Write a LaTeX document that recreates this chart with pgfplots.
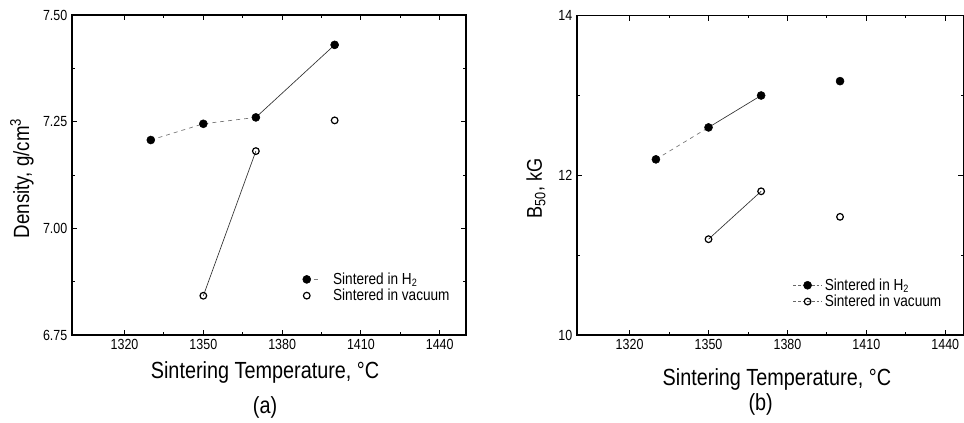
\documentclass[border=0pt]{standalone}
\usepackage{fontspec}
\setmainfont{Liberation Sans}[FakeStretch=0.85]
\usepackage{pgfplots}
\pgfplotsset{compat=1.18}

\pgfplotstableread{
T    D
1330 7.207
1350 7.245
1370 7.260
1400 7.430
}\densH
\pgfplotstableread{
T    D
1350 6.842
1370 7.181
1400 7.253
}\densV
\pgfplotstableread{
T    B
1330 12.20
1350 12.60
1370 13.00
1400 13.18
}\bH
\pgfplotstableread{
T    B
1350 11.20
1370 11.80
1400 11.48
}\bV

\newcommand{\tickfont}{\fontsize{11}{12}\selectfont}
\pgfplotsset{
  common/.style={
    scale only axis,
    anchor=south west,
    xmin=1300,
    xtick={1320,1350,1380,1410,1440},
    minor x tick num=1,
    minor y tick num=1,
    tick align=inside,
    major tick length=4pt,
    minor tick length=2pt,
    axis line style={line width=0.9pt},
    every tick/.style={line width=0.7pt, black},
    x tick label style={font=\tickfont, /pgf/number format/.cd, set thousands separator={}, assume math mode=true},
    xlabel style={font=\fontsize{17.5}{18}\selectfont},
    legend style={draw=none, fill=none, inner sep=0pt, font=\fontsize{12}{13}\selectfont,
      nodes={inner ysep=1pt}},
    legend cell align=left,
    clip=false,
  },
  hmark/.style={only marks, mark=*, mark size=3pt, black},
  vmark/.style={only marks, mark=o, mark size=2.5pt, black, mark options={line width=0.9pt, fill=white}},
  sline/.style={no marks, black!80, line width=0.5pt},
  dline/.style={no marks, black!55, line width=0.5pt, dash pattern=on 3pt off 3pt},
  legHa/.style={legend image code/.code={
    \draw[black, mark=*, mark size=3pt] plot coordinates {(0.1cm,0cm)};
    \draw[black!50, line width=0.5pt, solid] (0.28cm,0cm) -- (0.4cm,0cm);}},
  legVa/.style={legend image code/.code={
    \draw[black, mark=o, mark size=2.5pt, mark options={line width=0.9pt, fill=white}] plot coordinates {(0.1cm,0cm)};}},
  legHb/.style={legend image code/.code={
    \draw[black!60, line width=0.5pt, dash pattern=on 2pt off 1.5pt] (0cm,0cm) -- (0.75cm,0cm);
    \draw[black, mark=*, mark size=3pt] plot coordinates {(0.375cm,0cm)};}},
  legVb/.style={legend image code/.code={
    \draw[black!60, line width=0.5pt, dash pattern=on 2pt off 1.5pt] (0cm,0cm) -- (0.75cm,0cm);
    \draw[black, mark=o, mark size=2.5pt, mark options={line width=0.9pt, fill=white}] plot coordinates {(0.375cm,0cm)};}},
}

\begin{document}
\begin{tikzpicture}
\useasboundingbox (0,0) rectangle (723pt,317.25pt);

% ---------- (a) ----------
\begin{axis}[common,
  at={(54pt,66pt)},
  width=295.5pt, height=240pt,
  xmax=1450,
  ymin=6.75, ymax=7.50,
  ytick={6.75,7.00,7.25,7.50},
  y tick label style={font=\tickfont, /pgf/number format/.cd, fixed, fixed zerofill, precision=2, assume math mode=true},
  xlabel={Sintering Temperature, °C},
  xlabel style={at={(rel axis cs:0.49,-0.116)}, anchor=center},
  ylabel={Density, g/cm\textsuperscript{3}},
  ylabel style={at={(rel axis cs:-0.127,0.49)}, anchor=center, font=\fontsize{16.5}{17}\selectfont},
  legend style={at={(rel axis cs:0.585,0.200)}, anchor=north west},
]
\addplot[dline, forget plot] coordinates {(1330,7.207) (1350,7.245) (1370,7.260)};
\addplot[sline, forget plot] coordinates {(1370,7.260) (1400,7.430)};
\addplot[sline, forget plot] coordinates {(1350,6.842) (1370,7.181)};
\addplot[hmark, legHa] table[x=T, y=D] {\densH};
\addlegendentry{\hspace{9pt}Sintered in H\textsubscript{2}}
\addplot[vmark, legVa] table[x=T, y=D] {\densV};
\addlegendentry{\hspace{9pt}Sintered in vacuum}
\node[font=\fontsize{17.5}{18}\selectfont] at (rel axis cs:0.49,-0.228) {(a)};
\end{axis}

% ---------- (b) ----------
\begin{axis}[common,
  at={(432.75pt,66pt)},
  width=290pt, height=239.5pt,
  xmax=1447,
  ymin=10, ymax=14,
  ytick={10,12,14},
  y tick label style={font=\tickfont, /pgf/number format/assume math mode=true},
  xlabel={Sintering Temperature, °C},
  xlabel style={at={(rel axis cs:0.517,-0.14)}, anchor=center},
  ylabel={B\textsubscript{50}, kG},
  ylabel style={at={(rel axis cs:-0.106,0.46)}, anchor=center, font=\fontsize{16}{17}\selectfont},
  legend style={at={(rel axis cs:0.558,0.182)}, anchor=north west},
]
\addplot[dline, forget plot] coordinates {(1330,12.20) (1350,12.60)};
\addplot[sline, forget plot] coordinates {(1350,12.60) (1370,13.00)};
\addplot[sline, forget plot] coordinates {(1350,11.20) (1370,11.80)};
\addplot[hmark, legHb] table[x=T, y=B] {\bH};
\addlegendentry{Sintered in H\textsubscript{2}}
\addplot[vmark, legVb] table[x=T, y=B] {\bV};
\addlegendentry{Sintered in vacuum}
\node[font=\fontsize{17.5}{18}\selectfont] at (rel axis cs:0.475,-0.217) {(b)};
\end{axis}
\end{tikzpicture}
\end{document}
